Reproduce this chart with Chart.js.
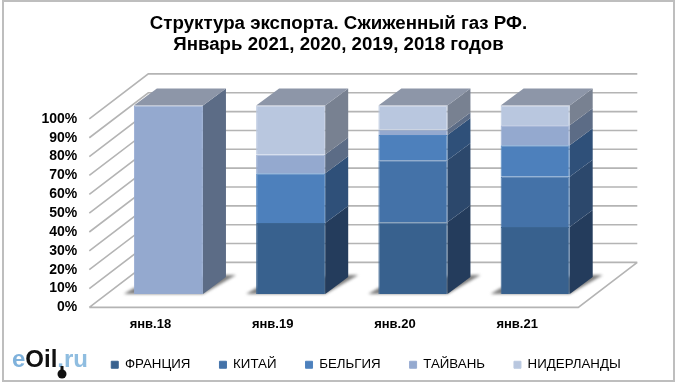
<!DOCTYPE html>
<html>
<head>
<meta charset="utf-8">
<style>
    html, body { margin: 0; padding: 0; background: #fff; }
    canvas { display: block; }
</style>
<script src="https://cdn.jsdelivr.net/npm/chart.js@4/dist/chart.umd.min.js"></script>
</head>
<body>
<canvas id="exportChart" width="680" height="385"></canvas>
<script>
// Данные (доли, %)
const categories = ['янв.18', 'янв.19', 'янв.20', 'янв.21'];
const seriesNames = ['ФРАНЦИЯ', 'КИТАЙ', 'БЕЛЬГИЯ', 'ТАЙВАНЬ', 'НИДЕРЛАНДЫ'];
const france = [0, 37.7, 38, 35.5];
const china = [0, 0, 33, 26.7];
const belgium = [0, 26.3, 13.3, 16.7];
const taiwan = [100, 10, 3, 10.6];
const netherlands = [0, 26, 12.7, 10.5];
const titleLines = ['Структура экспорта. Сжиженный газ РФ.', 'Январь 2021, 2020, 2019, 2018 годов'];

// Цвета граней
const frontColors = ['#38618E', '#4472A8', '#4D80BC', '#94A9CF', '#B9C7DF'];
const sideColors = ['#243C5C', '#2C486C', '#2F5079', '#5C6C86', '#788191'];
const edgeColors = ['#3B6592', '#4776AC', '#5084C0', '#98ACD2', '#BCCAE1'];
const topColor = '#8D96A8';
const lineColor = '#B4B4B4';

// Псевдо-3D: смещение передней грани столбца и глубина столбца/стен
const barShift = { x: 18, y: -13.4 };
const barDepth = { x: 23, y: -17 };
const wallDepth = { x: 59, y: -45 };

function poly(ctx, pts, fill) {
    ctx.beginPath();
    pts.forEach((p, i) => i ? ctx.lineTo(p[0], p[1]) : ctx.moveTo(p[0], p[1]));
    ctx.closePath();
    ctx.fillStyle = fill;
    ctx.fill();
}

// Стены и линии сетки
function drawWalls(chart) {
    const { ctx, chartArea, scales } = chart;
    const x0 = chartArea.left, x1 = chartArea.right;
    ctx.save();
    ctx.strokeStyle = lineColor;
    ctx.lineWidth = 1.6;
    ctx.beginPath();
    scales.y.ticks.forEach(tick => {
        const y = scales.y.getPixelForValue(tick.value);
        ctx.moveTo(x0, y);
        ctx.lineTo(x0 + wallDepth.x, y + wallDepth.y);
        ctx.lineTo(x1 + wallDepth.x, y + wallDepth.y);
    });
    const yb = scales.y.getPixelForValue(0);
    ctx.moveTo(x0, yb);
    ctx.lineTo(x1, yb);
    ctx.lineTo(x1 + wallDepth.x, yb + wallDepth.y);
    ctx.stroke();
    ctx.restore();
}

// Тени, боковые и верхние грани
function drawBars3d(chart) {
    const { ctx } = chart;
    categories.forEach((c, j) => {
        const first = chart.getDatasetMeta(0).data[j];
        const l = first.x - first.width / 2, r = first.x + first.width / 2, b = first.base;
        ctx.save();
        ctx.filter = 'blur(1.5px)';
        poly(ctx, [[l - 10, b], [r, b], [r + 33, b - 19], [r + 10, b - 19], [l, b - 6]], '#7e7e7e');
        ctx.restore();
    });
    categories.forEach((c, j) => {
        let topBar = null;
        chart.data.datasets.forEach((ds, i) => {
            if (!ds.data[j]) return;
            const bar = chart.getDatasetMeta(i).data[j];
            const r = bar.x + bar.width / 2;
            poly(ctx, [[r, bar.base], [r + barDepth.x, bar.base + barDepth.y],
                [r + barDepth.x, bar.y + barDepth.y], [r, bar.y]], sideColors[i]);
            topBar = bar;
        });
        const l = topBar.x - topBar.width / 2, r = topBar.x + topBar.width / 2, t = topBar.y;
        poly(ctx, [[l, t], [r, t], [r + barDepth.x, t + barDepth.y], [l + barDepth.x, t + barDepth.y]], topColor);
    });
}

// Логотип и рамка
function drawFrame(chart) {
    const { ctx } = chart;
    ctx.save();
    ctx.strokeStyle = '#BEBEBE';
    ctx.lineWidth = 2;
    ctx.strokeRect(3, 1, 671, 380);

    ctx.textBaseline = 'alphabetic';
    ctx.font = 'bold 24px "Liberation Sans"';
    let x = 12;
    [['e', '#7FB2DC'], ['Oil', '#111'], ['.ru', '#8FBDE0']].forEach(part => {
        ctx.fillStyle = part[1];
        ctx.fillText(part[0], x, 367);
        x += ctx.measureText(part[0]).width;
    });
    ctx.fillStyle = '#111';
    ctx.beginPath();
    ctx.arc(62, 374, 4.5, 0, Math.PI * 2);
    ctx.fill();
    ctx.fillRect(60.5, 366, 3, 6);
    ctx.restore();
}

const bars3dPlugin = {
    id: 'bars3d',
    afterLayout(chart) {
        // Заголовок и легенда центрируются не по области графика
        chart.titleBlock.right = 677;
        chart.legend.left += 52;
        chart.legend.top -= 3.6;
    },
    beforeDatasetsDraw(chart) {
        drawWalls(chart);
        chart.ctx.save();
        chart.ctx.translate(barShift.x, barShift.y);
        drawBars3d(chart);
    },
    afterDatasetsDraw(chart) {
        chart.ctx.restore();
    },
    afterDraw: drawFrame
};

const seriesValues = [france, china, belgium, taiwan, netherlands];

new Chart(document.getElementById('exportChart'), {
    type: 'bar',
    data: {
        labels: categories,
        datasets: seriesNames.map((name, i) => ({
            label: name,
            data: seriesValues[i],
            backgroundColor: frontColors[i],
            borderColor: edgeColors[i],
            borderWidth: 1
        }))
    },
    plugins: [bars3dPlugin],
    options: {
        responsive: false,
        animation: false,
        datasets: { bar: { categoryPercentage: 1, barPercentage: 0.565 } },
        plugins: {
            tooltip: { enabled: false },
            title: {
                display: true,
                text: titleLines,
                color: '#000',
                font: { family: '"Liberation Sans"', size: 18.7, weight: 'bold', lineHeight: 1.12 },
                padding: { top: 13, bottom: 64 }
            },
            legend: {
                position: 'bottom',
                labels: {
                    color: '#000',
                    font: { family: '"Liberation Sans"', size: 13.3 },
                    boxWidth: 7,
                    boxHeight: 7,
                    padding: 29
                }
            }
        },
        scales: {
            x: {
                stacked: true,
                afterFit(scale) { scale.height = 25.3; },
                grid: { display: false, drawTicks: false },
                border: { display: false },
                ticks: {
                    color: '#000',
                    padding: 9,
                    maxRotation: 0,
                    font: { family: '"Liberation Sans"', size: 13, weight: 'bold' }
                }
            },
            y: {
                stacked: true,
                min: 0,
                max: 100,
                afterFit(scale) { scale.width = 89.3; },
                grid: { display: false, drawTicks: false },
                border: { display: false },
                ticks: {
                    stepSize: 10,
                    autoSkip: false,
                    color: '#000',
                    padding: 12,
                    callback: v => v + '%',
                    font: { family: '"Liberation Sans"', size: 14, weight: 'bold' }
                }
            },
            // пустая ось справа: резервирует место под глубину стен
            spacer: {
                position: 'right',
                afterFit(scale) { scale.width = 101.7; },
                grid: { display: false, drawTicks: false },
                border: { display: false },
                ticks: { display: false }
            }
        }
    }
});
</script>
</body>
</html>
